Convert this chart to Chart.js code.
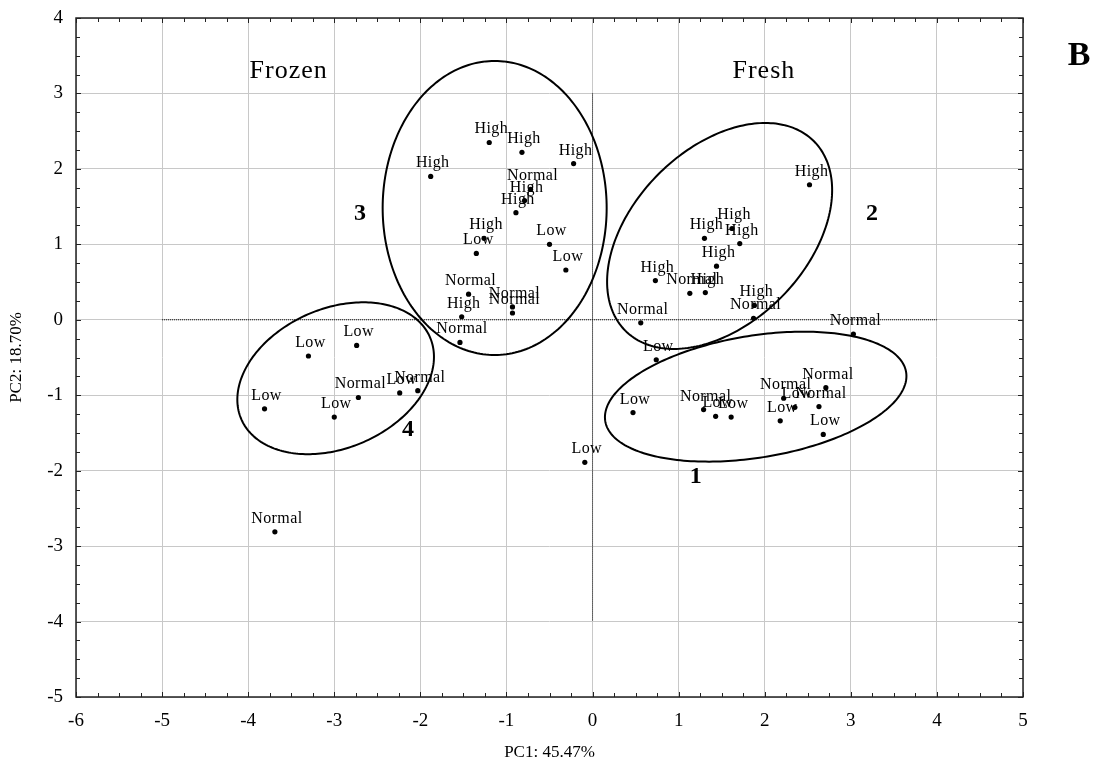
<!DOCTYPE html>
<html><head><meta charset="utf-8">
<script src="https://cdn.jsdelivr.net/npm/chart.js@4/dist/chart.umd.min.js"></script>
<style>html,body{margin:0;padding:0;background:#fff}#wrap{width:1097px;height:771px}</style>
</head><body><div id="wrap"><canvas id="c" width="1097" height="771"></canvas></div>
<script>
// ---- data ----
const pointX = [
  -1.20,-0.82,-0.22,-1.88,-0.72,-0.79,-0.89,-1.26,-1.35,-0.50,-0.31,-1.44,-0.93,-0.93,-1.52,-1.54,
  2.52,1.62,1.30,1.71,1.44,0.73,1.13,1.31,1.88,1.87,0.56,3.03,
  0.74,0.47,1.29,1.43,1.61,2.22,2.35,2.71,2.63,2.18,2.68,-0.09,
  -3.30,-2.74,-3.81,-2.72,-3.00,-2.24,-2.03,-3.69
];
const pointY = [
  2.35,2.22,2.07,1.90,1.73,1.58,1.42,1.08,0.88,1.00,0.66,0.34,0.17,0.09,0.04,-0.30,
  1.79,1.21,1.08,1.01,0.71,0.52,0.35,0.36,0.19,0.02,-0.04,-0.19,
  -0.53,-1.23,-1.19,-1.28,-1.29,-1.04,-1.16,-0.90,-1.15,-1.34,-1.52,-1.89,
  -0.48,-0.34,-1.18,-1.03,-1.29,-0.97,-0.94,-2.81
];
const pointLabel = [
  'High','High','High','High','Normal','High','High','High','Low','Low','Low','Normal','Normal','Normal','High','Normal',
  'High','High','High','High','High','High','Normal','High','High','Normal','Normal','Normal',
  'Low','Low','Normal','Low','Low','Normal','Low','Normal','Normal','Low','Low','Low',
  'Low','Low','Low','Normal','Low','Low','Normal','Normal'
];
const xTickValues = [-6,-5,-4,-3,-2,-1,0,1,2,3,4,5];
const yTickValues = [-5,-4,-3,-2,-1,0,1,2,3,4];
const vLineX = [0, 0];
const vLineY = [3, -4];
const hLineX = [-5, 4];
const hLineY = [0, 0];
// ellipses: centre and two conjugate semi-axis vectors, in data units
const ellipseCX = [1.895, 1.476, -1.137, -2.984];
const ellipseCY = [-1.019, 1.111, 1.482, -0.775];
const ellipseUX = [1.751, 1.307, 1.301, 1.142];
const ellipseUY = [0.2725, 0.607, 0, 0.283];
const ellipseVX = [0, 0, 0, 0];
const ellipseVY = [0.817, 1.369, 1.949, 0.966];
const groupText = ['1','2','3','4'];
const groupX = [1.20, 3.245, -2.70, -2.144];
const groupY = [-2.08, 1.41, 1.41, -1.46];
const regionText = ['Frozen','Fresh'];
const regionX = [-3.53, 1.99];
const regionY = [3.29, 3.29];

const SERIF = '"Liberation Serif", "Times New Roman", serif';

const decorPlugin = {
  id: 'decor',
  afterDatasetsDraw(chart) {
    const ctx = chart.ctx, xs = chart.scales.x, ys = chart.scales.y, a = chart.chartArea;
    ctx.save();
    // ellipses
    ctx.strokeStyle = '#000'; ctx.lineWidth = 2;
    for (let i = 0; i < ellipseCX.length; i++) {
      ctx.beginPath();
      for (let k = 0; k <= 240; k++) {
        const t = k / 240 * Math.PI * 2;
        const X = ellipseCX[i] + ellipseUX[i] * Math.cos(t) + ellipseVX[i] * Math.sin(t);
        const Y = ellipseCY[i] + ellipseUY[i] * Math.cos(t) + ellipseVY[i] * Math.sin(t);
        const px = xs.getPixelForValue(X), py = ys.getPixelForValue(Y);
        if (k === 0) ctx.moveTo(px, py); else ctx.lineTo(px, py);
      }
      ctx.closePath(); ctx.stroke();
    }
    // point labels
    ctx.fillStyle = '#000';
    ctx.font = '16px ' + SERIF;
    ctx.letterSpacing = '0.4px';
    ctx.textAlign = 'center'; ctx.textBaseline = 'alphabetic';
    for (let i = 0; i < pointX.length; i++) {
      const px = xs.getPixelForValue(pointX[i]), py = ys.getPixelForValue(pointY[i]);
      ctx.fillText(pointLabel[i], px + 2, py - 9);
    }
    ctx.letterSpacing = '0px';
    // group numbers
    ctx.font = 'bold 24px ' + SERIF; ctx.textBaseline = 'middle';
    for (let i = 0; i < groupText.length; i++) {
      ctx.fillText(groupText[i], xs.getPixelForValue(groupX[i]), ys.getPixelForValue(groupY[i]));
    }
    ctx.font = '26px ' + SERIF;
    ctx.letterSpacing = '1px';
    for (let i = 0; i < regionText.length; i++) {
      ctx.fillText(regionText[i], xs.getPixelForValue(regionX[i]), ys.getPixelForValue(regionY[i]));
    }
    ctx.letterSpacing = '0px';
    // frame
    ctx.strokeStyle = '#222'; ctx.lineWidth = 1.5;
    ctx.strokeRect(a.left, a.top, a.right - a.left, a.bottom - a.top);
    // inward ticks
    ctx.lineWidth = 1;
    for (let v = xs.min; v <= xs.max + 1e-9; v += 0.25) {
      const px = Math.round(xs.getPixelForValue(v)) + 0.5;
      const len = Math.abs(v - Math.round(v)) < 1e-6 ? 5 : 4;
      ctx.beginPath();
      ctx.moveTo(px, a.bottom); ctx.lineTo(px, a.bottom - len);
      ctx.moveTo(px, a.top); ctx.lineTo(px, a.top + len);
      ctx.stroke();
    }
    for (let v = ys.min; v <= ys.max + 1e-9; v += 0.25) {
      const py = Math.round(ys.getPixelForValue(v)) + 0.5;
      const len = Math.abs(v - Math.round(v)) < 1e-6 ? 5 : 4;
      ctx.beginPath();
      ctx.moveTo(a.left, py); ctx.lineTo(a.left + len, py);
      ctx.moveTo(a.right, py); ctx.lineTo(a.right - len, py);
      ctx.stroke();
    }
    // panel letter
    ctx.font = 'bold 34px ' + SERIF; ctx.textAlign = 'center'; ctx.textBaseline = 'alphabetic';
    ctx.fillText('B', 1079, 65);
    ctx.restore();
  }
};

new Chart(document.getElementById('c'), {
  type: 'scatter',
  data: {
    datasets: [
      { data: pointX.map((x, i) => ({x, y: pointY[i]})), pointRadius: 2.6, pointBackgroundColor: '#000', pointBorderWidth: 0, showLine: false },
      { data: vLineX.map((x, i) => ({x, y: vLineY[i]})), showLine: true, pointRadius: 0, borderColor: '#000', borderWidth: 1, borderDash: [1, 1] },
      { data: hLineX.map((x, i) => ({x, y: hLineY[i]})), showLine: true, pointRadius: 0, borderColor: '#000', borderWidth: 1, borderDash: [1, 1] }
    ]
  },
  options: {
    responsive: false, animation: false, devicePixelRatio: 1,
    layout: { padding: { top: 18, right: 74, left: 0, bottom: 0 } },
    plugins: { legend: { display: false }, tooltip: { enabled: false } },
    scales: {
      x: {
        type: 'linear', min: -6, max: 5,
        afterBuildTicks: s => { s.ticks = xTickValues.map(v => ({value: v})); },
        afterFit: s => { s.height = 74; s.paddingLeft = 0; s.paddingRight = 0; },
        ticks: { color: '#000', font: { family: SERIF, size: 19 }, padding: 13 },
        grid: { color: '#c8c8c8', lineWidth: 1, drawTicks: false },
        border: { display: false },
        title: { display: true, text: 'PC1: 45.47%', color: '#000', font: { family: SERIF, size: 17 }, padding: { top: 0, bottom: 8 } }
      },
      y: {
        type: 'linear', min: -5, max: 4,
        afterBuildTicks: s => { s.ticks = yTickValues.map(v => ({value: v})); },
        afterFit: s => { s.width = 76; s.paddingTop = 0; s.paddingBottom = 0; },
        ticks: { color: '#000', font: { family: SERIF, size: 19 }, padding: 13 },
        grid: { color: '#c8c8c8', lineWidth: 1, drawTicks: false },
        border: { display: false },
        title: { display: true, text: 'PC2: 18.70%', color: '#000', font: { family: SERIF, size: 17 }, padding: { top: 6, bottom: 0 } }
      }
    }
  },
  plugins: [decorPlugin]
});
</script></body></html>
